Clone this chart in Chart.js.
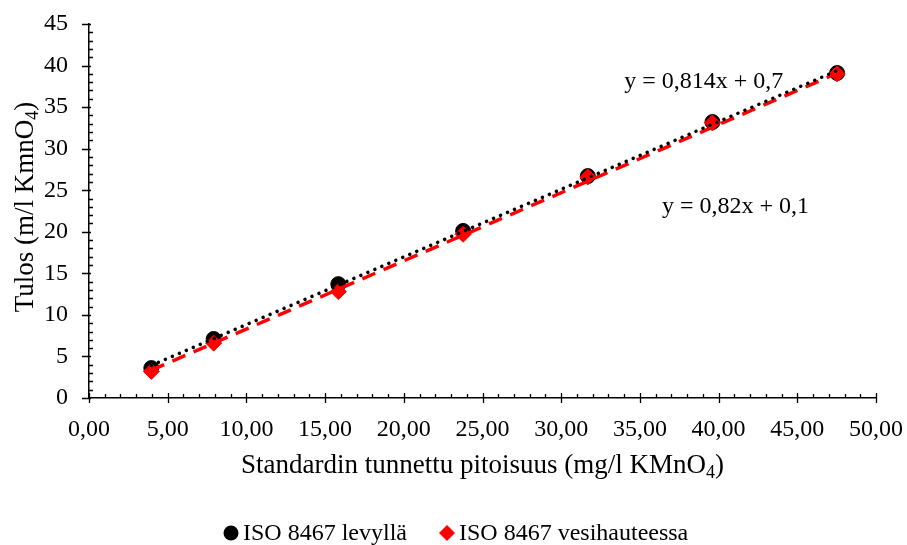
<!DOCTYPE html>
<html>
<head>
<meta charset="utf-8">
<script src="https://cdn.jsdelivr.net/npm/chart.js@4/dist/chart.umd.min.js"></script>
<style>
  html, body { margin: 0; padding: 0; background: #fff; }
  #wrap { width: 907px; height: 545px; position: relative; }
</style>
</head>
<body>
<div id="wrap"><canvas id="c"></canvas></div>
<script>
// standard concentrations (mg/l KMnO4)
const standards = [3.96, 7.92, 15.84, 23.77, 31.69, 39.61, 47.53];
// measured results
const levylla = [3.6, 7.1, 13.7, 20.1, 26.7, 33.2, 39.1];
const vesihauteessa = [3.2, 6.6, 12.8, 19.7, 26.6, 33.1, 39.0];
// trendline equations shown on chart
const slopes = [0.814, 0.82];
const intercepts = [0.7, 0.1];
const seriesNames = ['ISO 8467 levyllä', 'ISO 8467 vesihauteessa'];

const FONT = '"Liberation Serif", "Times New Roman", serif';

function pts(ys) {
    return standards.map((x, i) => ({ x: x, y: ys[i] }));
}
function trend(k) {
    const x0 = Math.min(...standards), x1 = Math.max(...standards);
    return [
        { x: x0, y: slopes[k] * x0 + intercepts[k] },
        { x: x1, y: slopes[k] * x1 + intercepts[k] }
    ];
}
function fmt(v) {
    return v.toString().replace('.', ',');
}

// axis tick marks like Excel: major crossing, minor inside
const tickMarks = {
    id: 'tickMarks',
    afterDraw(chart) {
        const ctx = chart.ctx;
        const xs = chart.scales.x, ys = chart.scales.y;
        ctx.save();
        ctx.strokeStyle = '#000';
        ctx.lineWidth = 1.3;
        ctx.beginPath();
        for (let v = 0; v <= 50; v++) {
            const px = Math.round(xs.getPixelForValue(v)) + 0.5;
            const b = ys.bottom;
            if (v % 5 === 0) { ctx.moveTo(px, b - 5); ctx.lineTo(px, b + 5); }
            else { ctx.moveTo(px, b - 4); ctx.lineTo(px, b); }
        }
        for (let v = 0; v <= 45; v++) {
            const py = Math.round(ys.getPixelForValue(v)) + 0.5;
            const l = xs.left;
            if (v % 5 === 0) { ctx.moveTo(l - 7, py); ctx.lineTo(l + 2, py); }
            else { ctx.moveTo(l, py); ctx.lineTo(l + 4, py); }
        }
        ctx.stroke();
        ctx.restore();
    }
};

// text with a subscript, centered at x
function drawSub(ctx, parts, x, y, size) {
    const big = size + 'px ' + FONT, small = Math.round(size * 0.65) + 'px ' + FONT;
    ctx.font = big; const w0 = ctx.measureText(parts[0]).width, w2 = ctx.measureText(parts[2]).width;
    ctx.font = small; const w1 = ctx.measureText(parts[1]).width;
    let cx = x - (w0 + w1 + w2) / 2;
    ctx.textAlign = 'left';
    ctx.textBaseline = 'alphabetic';
    ctx.font = big; ctx.fillText(parts[0], cx, y); cx += w0;
    ctx.font = small; ctx.fillText(parts[1], cx, y + size * 0.2); cx += w1;
    ctx.font = big; ctx.fillText(parts[2], cx, y);
}

// axis titles, equations and legend
const labelsPlugin = {
    id: 'labelsPlugin',
    afterDraw(chart) {
        const ctx = chart.ctx;
        const xs = chart.scales.x, ys = chart.scales.y;
        ctx.save();
        ctx.fillStyle = '#000';
        drawSub(ctx, ['Standardin tunnettu pitoisuus (mg/l KMnO', '4', ')'],
            (xs.left + xs.right) / 2, 473, 27);
        ctx.translate(33, 207);
        ctx.rotate(-Math.PI / 2);
        drawSub(ctx, ['Tulos (m/l KmnO', '4', ')'], 0, 0, 27);
        ctx.restore();

        ctx.save();
        ctx.fillStyle = '#000';
        ctx.font = '24px ' + FONT;
        ctx.textAlign = 'left';
        ctx.textBaseline = 'alphabetic';
        const eq = (k) => 'y = ' + fmt(slopes[k]) + 'x + ' + fmt(intercepts[k]);
        ctx.fillText(eq(0), xs.getPixelForValue(34.0), ys.getPixelForValue(37.3));
        ctx.fillText(eq(1), xs.getPixelForValue(36.4), ys.getPixelForValue(22.3));
        ctx.restore();

        // legend
        ctx.save();
        ctx.font = '24px ' + FONT;
        ctx.textAlign = 'left';
        ctx.textBaseline = 'alphabetic';
        const ly = 533;
        let lx = 223;
        seriesNames.forEach((name, i) => {
            const ds = chart.data.datasets[i];
            ctx.fillStyle = ds.pointBackgroundColor;
            ctx.beginPath();
            if (ds.pointStyle === 'circle') {
                ctx.arc(lx + 8, ly, 7.5, 0, Math.PI * 2);
            } else {
                ctx.moveTo(lx + 8, ly - 8);
                ctx.lineTo(lx + 16, ly);
                ctx.lineTo(lx + 8, ly + 8);
                ctx.lineTo(lx, ly);
                ctx.closePath();
            }
            ctx.fill();
            ctx.fillStyle = '#000';
            ctx.fillText(name, lx + 20, ly + 7);
            lx += 20 + ctx.measureText(name).width + 32;
        });
        ctx.restore();
    }
};

new Chart(document.getElementById('c'), {
    type: 'scatter',
    data: {
        datasets: [
            {
                label: seriesNames[0],
                data: pts(levylla),
                pointStyle: 'circle',
                pointRadius: 7.5,
                pointBackgroundColor: '#000',
                pointBorderColor: '#000',
                borderColor: '#000',
                backgroundColor: '#000',
                order: 4
            },
            {
                label: seriesNames[1],
                data: pts(vesihauteessa),
                pointStyle: 'rectRot',
                pointRadius: 8,
                pointBackgroundColor: '#ff0000',
                pointBorderColor: '#ff0000',
                borderColor: '#ff0000',
                backgroundColor: '#ff0000',
                order: 3
            },
            {
                label: 'trend2',
                type: 'line',
                data: trend(1),
                borderColor: '#ff0000',
                borderWidth: 3.5,
                borderDash: [14, 9],
                pointRadius: 0,
                fill: false,
                order: 2
            },
            {
                label: 'trend1',
                type: 'line',
                data: trend(0),
                borderColor: '#000',
                borderWidth: 3.5,
                borderDash: [0.1, 7.5],
                borderCapStyle: 'round',
                pointRadius: 0,
                fill: false,
                order: 1
            }
        ]
    },
    options: {
        responsive: true,
        maintainAspectRatio: false,
        animation: false,
        layout: { padding: { top: 24, right: 31, bottom: 47, left: 0 } },
        plugins: {
            tooltip: { enabled: false },
            legend: { display: false }
        },
        scales: {
            x: {
                type: 'linear',
                min: 0,
                max: 50,
                afterFit(s) { s.height = 100; s.paddingLeft = 0; s.paddingRight = 0; },
                grid: { display: false, drawTicks: false },
                border: { display: true, color: '#000', width: 1.5 },
                ticks: {
                    stepSize: 5,
                    padding: 17,
                    color: '#000',
                    font: { family: FONT, size: 24 },
                    maxRotation: 0,
                    callback: (v) => v.toFixed(2).replace('.', ',')
                }
            },
            y: {
                type: 'linear',
                min: 0,
                max: 45,
                afterFit(s) { s.width = 89; s.paddingTop = 0; s.paddingBottom = 0; },
                grid: { display: false, drawTicks: false },
                border: { display: true, color: '#000', width: 1.5 },
                ticks: {
                    stepSize: 5,
                    padding: 21,
                    color: '#000',
                    font: { family: FONT, size: 24 },
                    callback: (v) => String(v)
                }
            }
        }
    },
    plugins: [tickMarks, labelsPlugin]
});
</script>
</body>
</html>
